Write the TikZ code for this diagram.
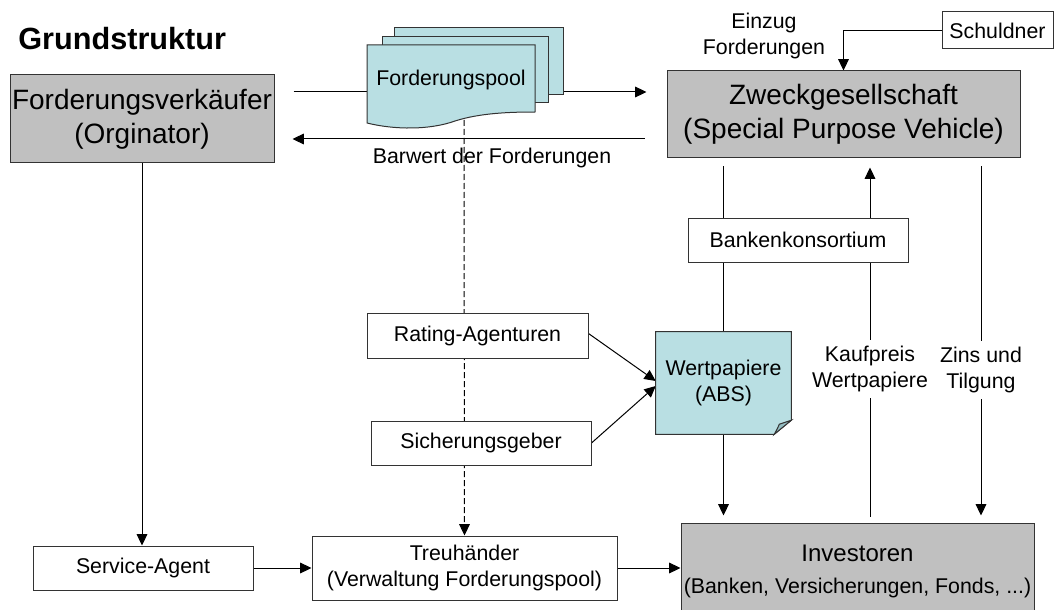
\documentclass[tikz,border=0pt]{standalone}
\usepackage{fontspec}
\setmainfont{Liberation Sans}
\usepackage{xcolor}
\definecolor{boxgray}{HTML}{C0C0C0}
\definecolor{poolteal}{HTML}{B9DFE3}
\definecolor{foldteal}{HTML}{93BCC1}
\usetikzlibrary{positioning,arrows.meta,backgrounds,calc}
\tikzset{
  gbox/.style ={rectangle, draw=black!80, fill=boxgray, line width=0.75pt, align=center,
                inner sep=0pt, font=\fontsize{21}{25.5}\selectfont},
  wbox/.style ={rectangle, draw=black!80, fill=white, line width=0.75pt, align=center,
                inner sep=0pt, font=\fontsize{16}{19}\selectfont},
  lbl/.style  ={align=center, inner sep=0pt, font=\fontsize{16}{19}\selectfont},
  gap/.style  ={lbl, fill=white, inner xsep=2pt, inner ysep=5pt},
  doc/.style  ={draw=black!80, fill=poolteal, line width=0.75pt},
  ln/.style   ={line width=0.75pt},
  arr/.style  ={-{Triangle[length=8.5pt,width=8pt]}, line width=0.75pt},
  darr/.style ={arr, dash pattern=on 4.5pt off 2.25pt},
}

\begin{document}
\begin{tikzpicture}[x=0.75pt, y=-0.75pt]
  \useasboundingbox (0,0) rectangle (1058,610);
  \node[anchor=base west, inner sep=0pt, font=\fontsize{23}{27}\selectfont\bfseries] (title) at (18,50) {Grundstruktur};

  % main parties
  \node[gbox, minimum width=198pt, minimum height=66pt] (fv) at (142,119) {Forderungsverkäufer\\(Orginator)};
  \node[gbox, minimum width=264.75pt, minimum height=65.25pt] (spv) at (843.5,114.5) {Zweckgesellschaft\\(Special Purpose Vehicle)};
  \node[gbox, minimum width=264.75pt, minimum height=72pt, font=\fontsize{18}{24}\selectfont] (inv) at (857.5,571)
    {Investoren\\{\fontsize{16}{19}\selectfont(Banken, Versicherungen, Fonds, ...)}};

  % other parties
  \node[wbox, minimum width=83.25pt, minimum height=27.75pt] (sd) at (997.5,30.5) {Schuldner};
  \node[wbox, minimum width=165pt, minimum height=33pt] (bk) at (798,240) {Bankenkonsortium};
  \node[wbox, minimum width=165.75pt, minimum height=33.75pt] (ra) at (477.5,335.5) {Rating-Agenturen};
  \node[wbox, minimum width=165pt, minimum height=33pt] (sg) at (481,443) {Sicherungsgeber};
  \node[wbox, minimum width=165pt, minimum height=33pt] (sa) at (143,568) {Service-Agent};
  \node[wbox, minimum width=228.75pt, minimum height=48pt] (th) at (464.5,568) {Treuhänder\\(Verwaltung Forderungspool)};

  % labels
  \node[lbl] (einzug) at (764,36) {Einzug\\Forderungen};
  \node[lbl] (bw) at (492,158) {Barwert der Forderungen};
  \node[gap] (kp) at (870,369) {Kaufpreis\\Wertpapiere};
  \node[gap] (zt) at (981,370) {Zins und\\Tilgung};
  \node[lbl] (pool) at (451,80) {Forderungspool};
  \node[lbl, minimum width=101.25pt, minimum height=76.5pt] (wp) at (723.5,383) {Wertpapiere\\(ABS)};
  \coordinate (poolbot) at (464,120);

  \begin{pgfonlayer}{background}
    \draw[arr, shorten <=14.25pt, shorten >=15pt] ([yshift=20.25pt]fv.east) -- ([yshift=20.25pt]fv.east -| spv.west);
    \draw[arr, shorten <=16.5pt, shorten >=13.5pt] ([yshift=-15pt]fv.east -| spv.west) -- ([yshift=-15pt]fv.east);
    \draw[darr] (poolbot) -- (th.north);
    \draw[arr] (sd.west) -| (spv.north);
    \draw[ln, shorten <=6pt] (wp.north |- spv.south) -- (wp.north);
    \draw[arr, shorten >=5.25pt] (wp.south) -- (wp.south |- inv.north);
    \draw[arr, shorten <=4.5pt, shorten >=6.75pt] (kp |- inv.north) -- (kp |- spv.south);
    \draw[arr, shorten <=6pt, shorten >=5.25pt] (zt |- spv.south) -- (zt |- inv.north);
    \draw[arr] ([yshift=1.5pt]ra.east) -- ([yshift=1.5pt]wp.west);
    \draw[arr] (sg.east) -- ([yshift=-2.25pt]wp.west);
    \draw[arr] (fv.south) -- (fv.south |- sa.north);
    \draw[arr] (sa.east) -- (th.west);
    \draw[arr] (th.east) -- (th.east -| inv.west);

    % stacked pool documents
    \draw[doc] (394,28) rectangle (563,95);
    \draw[doc] (382,37) rectangle (548,103);
    \draw[doc] (367,45) -- (535,45) -- (535,112) .. controls (510,112) and (480,113) .. (455,121)
      .. controls (430,130) and (395,130) .. (367,123) -- cycle;

    % securities sheet with folded corner
    \draw[doc] (wp.north west) -- (wp.north east) -- ([yshift=10.5pt]wp.south east)
      -- ([xshift=-12.75pt]wp.south east) -- (wp.south west) -- cycle;
    \draw[doc, fill=foldteal] ([yshift=10.5pt]wp.south east) -- ([xshift=-12.75pt]wp.south east)
      .. controls ([xshift=-10pt,yshift=5pt]wp.south east) .. ([xshift=-9pt,yshift=7.5pt]wp.south east) -- cycle;
  \end{pgfonlayer}
\end{tikzpicture}
\end{document}
